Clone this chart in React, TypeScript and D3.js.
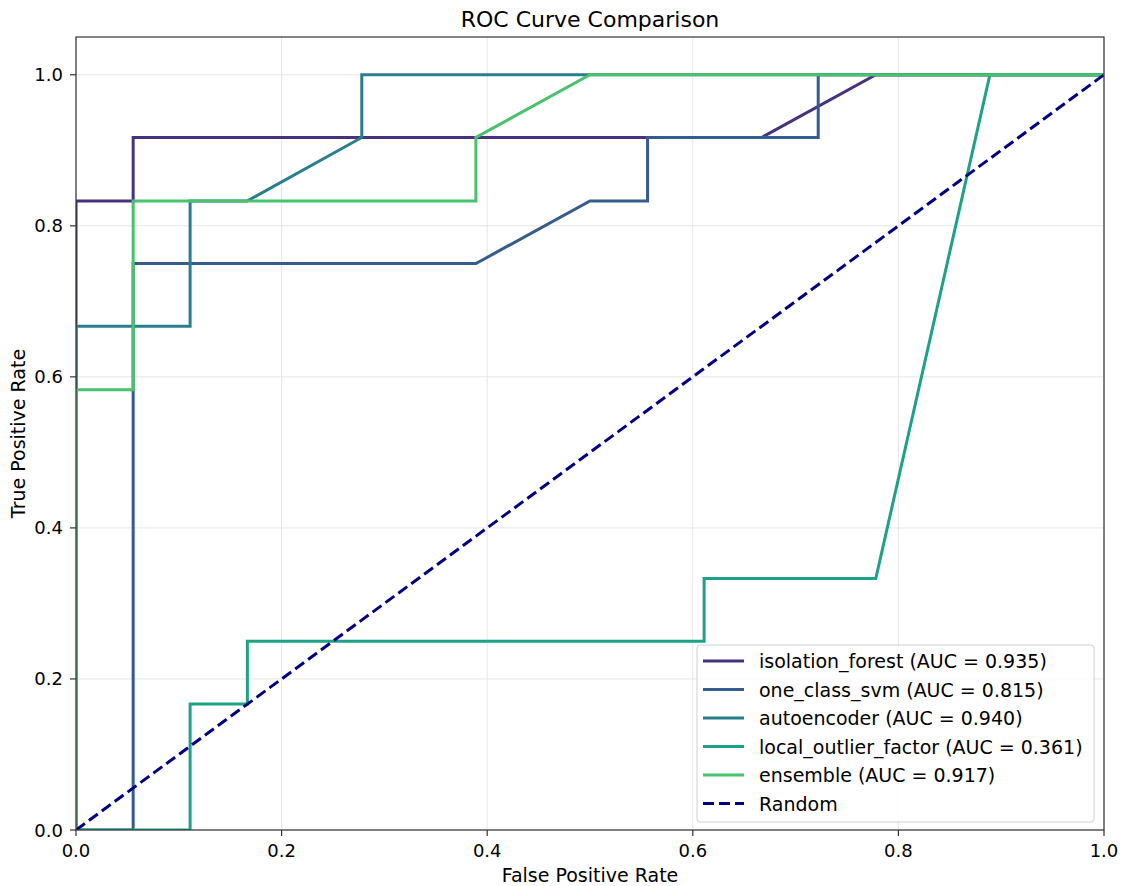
import { scaleLinear, line } from 'd3'
import { useEffect } from 'react'

type Pt = [number, number]

// FPR / TPR steps (multiples of 1/18 and 1/12)
const isolationForest: Pt[] = [[0, 0], [0, 0.833], [0.0556, 0.833], [0.0556, 0.917], [0.667, 0.917], [0.778, 1], [1, 1]]
const oneClassSvm: Pt[] = [[0, 0], [0.0556, 0], [0.0556, 0.75], [0.389, 0.75], [0.5, 0.833], [0.556, 0.833], [0.556, 0.917], [0.722, 0.917], [0.722, 1], [1, 1]]
const autoencoder: Pt[] = [[0, 0], [0, 0.667], [0.111, 0.667], [0.111, 0.833], [0.1667, 0.833], [0.278, 0.917], [0.278, 1], [1, 1]]
const localOutlierFactor: Pt[] = [[0, 0], [0.111, 0], [0.111, 0.1667], [0.1667, 0.1667], [0.1667, 0.25], [0.611, 0.25], [0.611, 0.333], [0.778, 0.333], [0.889, 1], [1, 1]]
const ensemble: Pt[] = [[0, 0], [0, 0.583], [0.0556, 0.583], [0.0556, 0.833], [0.389, 0.833], [0.389, 0.917], [0.5, 1], [1, 1]]
const randomLine: Pt[] = [[0, 0], [1, 1]]

const seriesNames = ['isolation_forest', 'one_class_svm', 'autoencoder', 'local_outlier_factor', 'ensemble']
const aucValues = ['0.935', '0.815', '0.940', '0.361', '0.917']
const seriesData = [isolationForest, oneClassSvm, autoencoder, localOutlierFactor, ensemble]
const colors = ['#46327e', '#365c8d', '#277f8e', '#1fa187', '#4ac16d']
const ticks = [0, 0.2, 0.4, 0.6, 0.8, 1.0]

const W = 1126
const H = 886
const left = 76
const right = 1104
const top = 37
const bottom = 830
const font = 'DejaVu Sans, sans-serif'
const lw = 3
const dash = '11,5'

export default function App() {
  useEffect(() => {
    document.body.style.margin = '0'
  }, [])

  const x = scaleLinear().domain([0, 1]).range([left, right])
  const y = scaleLinear().domain([0, 1.05]).range([bottom, top])
  const path = line<Pt>().x((d) => x(d[0])).y((d) => y(d[1]))

  const legendX = 697
  const legendY = 645
  const rowH = 28.5

  return (
    <svg width={W} height={H} style={{ display: 'block', background: '#fff' }} fontFamily={font}>
      <defs>
        <clipPath id="plot">
          <rect x={left} y={top} width={right - left} height={bottom - top} />
        </clipPath>
      </defs>

      {/* grid */}
      {ticks.map((t) => (
        <g key={'g' + t}>
          <line x1={x(t)} x2={x(t)} y1={top} y2={bottom} stroke="#e6e6e6" strokeWidth={1} />
          <line x1={left} x2={right} y1={y(t)} y2={y(t)} stroke="#e6e6e6" strokeWidth={1} />
        </g>
      ))}

      <g clipPath="url(#plot)" fill="none">
        {seriesData.map((d, i) => (
          <path key={seriesNames[i]} d={path(d) ?? ''} stroke={colors[i]} strokeWidth={lw} strokeLinejoin="miter" />
        ))}
        <path d={path(randomLine) ?? ''} stroke="#000080" strokeWidth={lw} strokeDasharray={dash} />
      </g>

      {/* frame */}
      <rect x={left} y={top} width={right - left} height={bottom - top} fill="none" stroke="#333" strokeWidth={1.2} />

      {/* ticks */}
      {ticks.map((t) => (
        <g key={'t' + t} fontSize={18} fill="#000">
          <line x1={x(t)} x2={x(t)} y1={bottom} y2={bottom + 6} stroke="#333" strokeWidth={1.2} />
          <text x={x(t)} y={bottom + 27} textAnchor="middle">{t.toFixed(1)}</text>
          <line x1={left - 6} x2={left} y1={y(t)} y2={y(t)} stroke="#333" strokeWidth={1.2} />
          <text x={left - 13} y={y(t) + 6.5} textAnchor="end">{t.toFixed(1)}</text>
        </g>
      ))}

      <text x={(left + right) / 2} y={27} textAnchor="middle" fontSize={22}>ROC Curve Comparison</text>
      <text x={(left + right) / 2} y={882} textAnchor="middle" fontSize={19}>False Positive Rate</text>
      <text transform={`translate(25,${(top + bottom) / 2}) rotate(-90)`} textAnchor="middle" fontSize={19}>True Positive Rate</text>

      {/* legend */}
      <rect x={legendX} y={legendY} width={397} height={177} rx={3} fill="#fff" fillOpacity={0.8} stroke="#d0d0d0" />
      {seriesNames.map((n, i) => (
        <g key={'l' + n}>
          <line x1={703} x2={744} y1={legendY + 16 + i * rowH} y2={legendY + 16 + i * rowH} stroke={colors[i]} strokeWidth={lw} />
          <text x={759} y={legendY + 23 + i * rowH} fontSize={19}>{`${n} (AUC = ${aucValues[i]})`}</text>
        </g>
      ))}
      <line x1={703} x2={744} y1={legendY + 16 + 5 * rowH} y2={legendY + 16 + 5 * rowH} stroke="#000080" strokeWidth={lw} strokeDasharray={dash} />
      <text x={759} y={legendY + 23 + 5 * rowH} fontSize={19}>Random</text>
    </svg>
  )
}
